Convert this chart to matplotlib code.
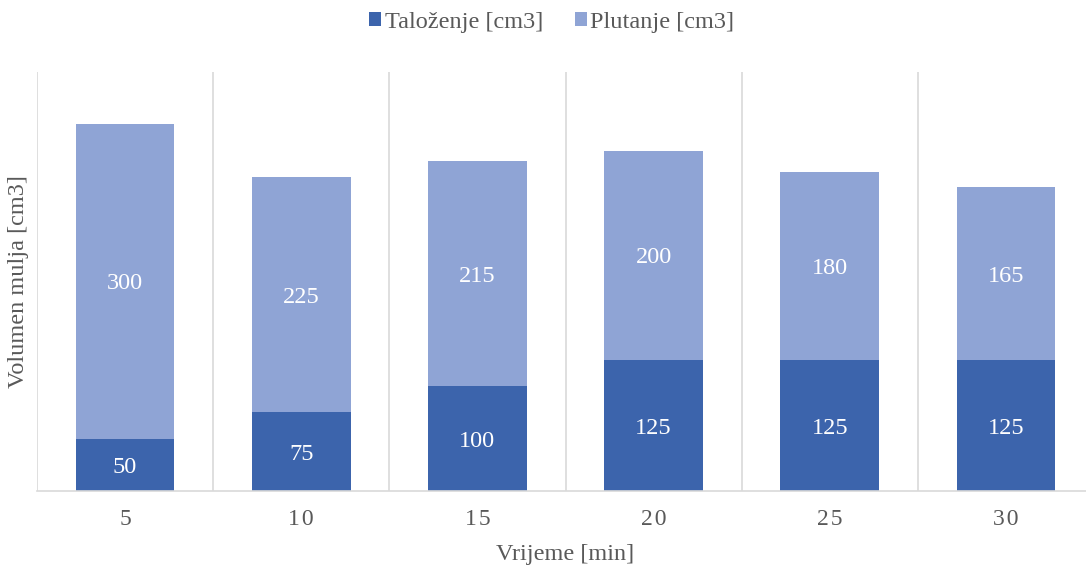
import matplotlib.pyplot as plt
import numpy as np

vrijeme = ["5", "10", "15", "20", "25", "30"]
talozenje = [50, 75, 100, 125, 125, 125]
plutanje = [300, 225, 215, 200, 180, 165]

plt.rcParams['font.family'] = ['Liberation Serif', 'DejaVu Serif']

fig = plt.figure(figsize=(10.86, 5.65), dpi=100)
# plot area runs slightly past the right edge of the figure
ax = fig.add_axes([37 / 1086, 1 - 491 / 565, 1057 / 1086, 419 / 565])

x = np.arange(len(vrijeme))
b1 = ax.bar(x, talozenje, width=0.56, color='#3C64AC', label='Taloženje [cm3]')
b2 = ax.bar(x, plutanje, width=0.56, bottom=talozenje, color='#8FA4D5', label='Plutanje [cm3]')

for bars, vals in [(b1, talozenje), (b2, plutanje)]:
    for t in ax.bar_label(bars, labels=[str(v) for v in vals], label_type='center',
                          color='white', fontsize=17.5):
        t.set_va('center_baseline')

ax.set_xlim(-0.5, len(vrijeme) - 0.5)
ax.set_ylim(0, 400)

# separators between categories
for b in np.arange(-0.5, len(vrijeme), 1.0):
    ax.axvline(b, color='#D9D9D9', linewidth=1.2, zorder=0)

for s in ['top', 'right', 'left']:
    ax.spines[s].set_visible(False)
ax.spines['bottom'].set_color('#D9D9D9')
ax.spines['bottom'].set_linewidth(1.2)

ax.set_yticks([])
ax.set_xticks(x)
ax.set_xticklabels(["\u200a".join(v) for v in vrijeme], fontsize=17, color='#595959')
ax.tick_params(axis='x', length=0, pad=13)

ax.set_xlabel('Vrijeme [min]', fontsize=17.5, color='#595959', labelpad=10)
ax.set_ylabel('Volumen mulja [cm3]', fontsize=17.5, color='#595959', labelpad=6)

fig.legend(loc='upper center', bbox_to_anchor=(0.508, 1.018), ncol=2, frameon=False,
           fontsize=17.5, labelcolor='#595959', handlelength=0.5, handleheight=0.5,
           handletextpad=0.15, columnspacing=1.3)

fig.savefig('out.png', dpi=100)
